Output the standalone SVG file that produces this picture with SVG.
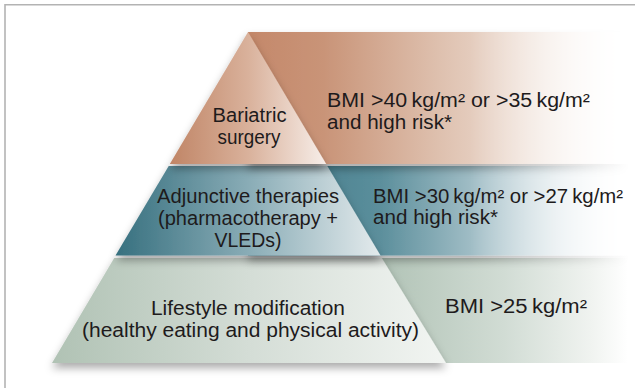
<svg xmlns="http://www.w3.org/2000/svg" width="635" height="388" viewBox="0 0 635 388">
<style>
text{font-family:"Liberation Sans",Arial,sans-serif;font-size:19.5px;fill:#1e1b1c}
.c{text-anchor:middle}
.frame{stroke:#b3b3b3;stroke-width:1.6;fill:none}
</style>
<defs>
<filter id="sh" x="-10%" y="-10%" width="120%" height="130%">
<feDropShadow dx="0" dy="5" stdDeviation="4" flood-color="#000" flood-opacity="0.33"/>
</filter>
<linearGradient id="mg" gradientUnits="userSpaceOnUse" x1="470" y1="0" x2="630" y2="0">
<stop offset="0" stop-color="#ffffff"/><stop offset="1" stop-color="#000000"/>
</linearGradient>
<mask id="fade" maskUnits="userSpaceOnUse" x="0" y="0" width="635" height="388">
<rect width="635" height="388" fill="url(#mg)"/>
</mask>
<linearGradient id="r1" gradientUnits="userSpaceOnUse" x1="248" y1="0" x2="628" y2="0">
<stop offset="0" stop-color="#c4886a"/><stop offset="0.2" stop-color="#c99478"/><stop offset="0.5" stop-color="#dec0ae"/><stop offset="0.8" stop-color="#f3e8e1"/><stop offset="1" stop-color="#ffffff"/>
</linearGradient>
<linearGradient id="r2" gradientUnits="userSpaceOnUse" x1="248" y1="0" x2="628" y2="0">
<stop offset="0" stop-color="#3a7585"/><stop offset="0.35" stop-color="#5c8f9c"/><stop offset="0.61" stop-color="#a6c1c9"/><stop offset="0.82" stop-color="#d9e4e8"/><stop offset="1" stop-color="#ffffff"/>
</linearGradient>
<linearGradient id="r3" gradientUnits="userSpaceOnUse" x1="380" y1="0" x2="628" y2="0">
<stop offset="0" stop-color="#b1c3b6"/><stop offset="0.5" stop-color="#d1dcd4"/><stop offset="0.85" stop-color="#f0f3f0"/><stop offset="1" stop-color="#ffffff"/>
</linearGradient>
<linearGradient id="t1" gradientUnits="userSpaceOnUse" x1="170" y1="0" x2="326" y2="0">
<stop offset="0" stop-color="#c08566"/><stop offset="0.5" stop-color="#d9b19b"/><stop offset="1" stop-color="#f7eee9"/>
</linearGradient>
<linearGradient id="t2" gradientUnits="userSpaceOnUse" x1="116" y1="0" x2="380" y2="0">
<stop offset="0" stop-color="#37707f"/><stop offset="0.5" stop-color="#89acb6"/><stop offset="1" stop-color="#e3eaec"/>
</linearGradient>
<linearGradient id="t3" gradientUnits="userSpaceOnUse" x1="52" y1="0" x2="446" y2="0">
<stop offset="0" stop-color="#b0c2b4"/><stop offset="0.5" stop-color="#d4ddd6"/><stop offset="1" stop-color="#f2f5f2"/>
</linearGradient>
</defs>
<rect width="635" height="388" fill="#ffffff"/>
<path class="frame" d="M5,388 V4.8 H635"/>

<g id="criteria-lifestyle">
<rect x="380" y="258" width="250" height="105" fill="url(#r3)"/>
<text x="445" y="313" textLength="142" lengthAdjust="spacingAndGlyphs">BMI &gt;25&#8201;kg/m²</text>
</g>
<g id="tier-lifestyle">
<polygon points="114.2,258 381.8,258 446,363 52,363" fill="url(#t3)" filter="url(#sh)"/>
<text class="c" x="248" y="314.5" textLength="194" lengthAdjust="spacingAndGlyphs">Lifestyle modification</text>
<text class="c" x="250.5" y="336.5" textLength="337" lengthAdjust="spacingAndGlyphs">(healthy eating and physical activity)</text>
</g>

<g id="criteria-adjunctive">
<g mask="url(#fade)"><rect x="248" y="166" width="382" height="89.5" fill="url(#r2)" filter="url(#sh)"/></g>
<text x="373" y="202.5" textLength="250" lengthAdjust="spacingAndGlyphs">BMI &gt;30&#8201;kg/m² or &gt;27&#8201;kg/m²</text>
<text x="373" y="224" textLength="125" lengthAdjust="spacingAndGlyphs">and high risk*</text>
</g>
<g id="tier-adjunctive">
<polygon points="168.7,166 327.3,166 380.5,255.5 115.5,255.5" fill="url(#t2)" filter="url(#sh)"/>
<text class="c" x="248" y="203" textLength="182" lengthAdjust="spacingAndGlyphs">Adjunctive therapies</text>
<text class="c" x="248" y="225" textLength="180" lengthAdjust="spacingAndGlyphs">(pharmacotherapy +</text>
<text class="c" x="248" y="247" textLength="67" lengthAdjust="spacingAndGlyphs">VLEDs)</text>
</g>

<g id="criteria-bariatric">
<g mask="url(#fade)"><rect x="248" y="32" width="382" height="132" fill="url(#r1)" filter="url(#sh)"/></g>
<text x="327" y="107" textLength="263" lengthAdjust="spacingAndGlyphs">BMI &gt;40&#8201;kg/m² or &gt;35&#8201;kg/m²</text>
<text x="327" y="129" textLength="125" lengthAdjust="spacingAndGlyphs">and high risk*</text>
</g>
<g id="tier-bariatric">
<polygon points="248,32 326.2,164 169.8,164" fill="url(#t1)" filter="url(#sh)"/>
<text class="c" x="249.5" y="122" textLength="74" lengthAdjust="spacingAndGlyphs">Bariatric</text>
<text class="c" x="249" y="144" textLength="63" lengthAdjust="spacingAndGlyphs">surgery</text>
</g>
</svg>
